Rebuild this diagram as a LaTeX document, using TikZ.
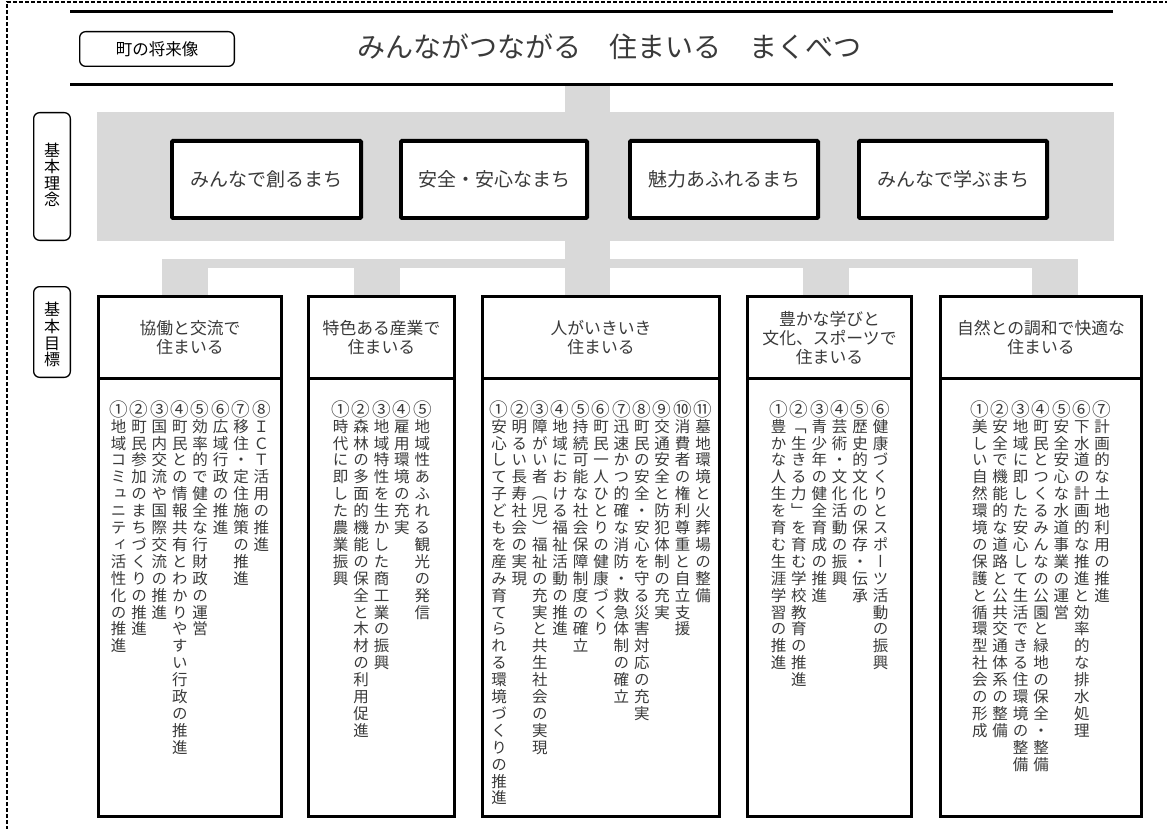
\documentclass[tikz,border=0pt]{standalone}
\usepackage{graphicx}
\usepackage{fontspec}
\newfontfamily\jp{Noto Sans CJK JP}
\newfontfamily\jpv[RawFeature={+vert}]{Noto Sans CJK JP}
\definecolor{barg}{HTML}{D9D9D9}
\definecolor{txt}{HTML}{3A3A3A}
% vertical stacking of characters
\def\vsend{vsend-marker}
\def\vsaux#1{\ifx\vsend#1\else\hbox to 1em{\hss\smash{#1}\hss}\expandafter\vsaux\fi}
\newcommand\vs[2]{\vtop{\baselineskip=#1\lineskiplimit=-\maxdimen\lineskip=0pt\relax\vsaux#2\vsend}}
\newcommand\col[2]{\hbox to 20.4pt{\hss\vtop{\baselineskip=16.9pt\lineskiplimit=-\maxdimen\lineskip=0pt\relax
  \hbox to 1em{\hss\smash{\raisebox{-0.07em}{\scalebox{1.2}{#1}}}\hss}\vsaux#2\vsend}\hss}}
\begin{document}
\begin{tikzpicture}[x=1pt,y=-1pt,
  border/.style={draw=black, line width=1.1pt, dash pattern=on 4pt off 2pt},
  rule/.style={draw=black, line width=3pt},
  conn/.style={fill=barg, draw=none},
  tagbox/.style={draw=black, line width=1.3pt, rounded corners=6pt, fill=white, inner sep=0},
  tagtxt/.style={inner sep=0, anchor=north, text=black, font=\jp\fontsize{16}{16}\selectfont},
  title/.style={inner sep=0, text=txt, font=\jp\fontsize{28}{32}\selectfont},
  rowbox/.style={draw=black, line width=3.8pt, fill=white, rounded corners=1pt, inner sep=0,
    minimum height=77.2pt, text=txt, font=\jp\fontsize{19}{22}\selectfont},
  goalhead/.style={draw=black, line width=3.3pt, fill=white, inner sep=0, minimum height=81.85pt,
    align=center, text=txt, font=\jp\fontsize{16.8}{19}\selectfont},
  goalbody/.style={draw=black, line width=3.3pt, fill=white, inner sep=0, minimum height=437.85pt},
  items/.style={inner sep=0, anchor=north, text=txt, font=\jpv\fontsize{15.5}{16.9}\selectfont}
]
\useasboundingbox (0,0) rectangle (1167,829);
\begin{scope}
  \clip (0,0) rectangle (1167,829);
  \draw[border] (7,860) -- (7,2) -- (1190,2);
\end{scope}

% gray connectors
\fill[conn] (565,85) rectangle (610,268);
\fill[conn] (97,112) rectangle (1114,241);
\fill[conn] (162,259) rectangle (1078,268);
\foreach \a/\b in {162/208,354/400,565/610,803/849,1032/1078}
  \fill[conn] (\a,259) rectangle (\b,298);

% top band
\draw[rule] (70,12) -- (1113,12);
\draw[rule] (70,85) -- (1113,85);
\node[tagbox, minimum width=154.7pt, minimum height=34.7pt, font=\jp\fontsize{16.5}{18}\selectfont] (future) at (157,49) {町の将来像};
\node[title] (vision) at (609,47) {みんながつながる　住まいる　まくべつ};

% side tags
\node[tagbox, minimum width=36.7pt, minimum height=127.7pt] (tag1) at (52,176.5) {};
\node[tagtxt] (tag1t) at (52,156.5) {\vs{16.3pt}{基本理念}};
\node[tagbox, minimum width=36.7pt, minimum height=90.7pt] (tag2) at (52,332) {};
\node[tagtxt] (tag2t) at (52,315.5) {\vs{16.7pt}{基本目標}};

% basic principles
\node[rowbox, minimum width=189.2pt] (p1) at (266.5,179.5) {みんなで創るまち};
\node[rowbox, minimum width=186.2pt] (p2) at (494,179.5) {安全・安心なまち};
\node[rowbox, minimum width=188.2pt] (p3) at (724,179.5) {魅力あふれるまち};
\node[rowbox, minimum width=188.2pt] (p4) at (953,179.5) {みんなで学ぶまち};

% goals: headers
\node[goalhead, minimum width=182.7pt] (h1) at (190,337.6) {協働と交流で\\住まいる};
\node[goalhead, minimum width=145.7pt] (h2) at (381.5,337.6) {特色ある産業で\\住まいる};
\node[goalhead, minimum width=236.7pt] (h3) at (601,337.6) {人がいきいき\\住まいる};
\node[goalhead, minimum width=163.7pt] (h4) at (829.5,337.6) {豊かな学びと\\文化、スポーツで\\住まいる};
\node[goalhead, minimum width=200.7pt] (h5) at (1041,337.6) {自然との調和で快適な\\住まいる};

% goals: bodies
\node[goalbody, minimum width=182.7pt] (b1) at (190,597.4) {};
\node[goalbody, minimum width=145.7pt] (b2) at (381.5,597.4) {};
\node[goalbody, minimum width=236.7pt] (b3) at (601,597.4) {};
\node[goalbody, minimum width=163.7pt] (b4) at (829.5,597.4) {};
\node[goalbody, minimum width=200.7pt] (b5) at (1041,597.4) {};

% item texts
\node[items] (t1) at (190,415) {%
\col{①}{地域コミュニティ活性化の推進}%
\col{②}{町民参加のまちづくりの推進}%
\col{③}{国内交流や国際交流の推進}%
\col{④}{町民との情報共有とわかりやすい行政の推進}%
\col{⑤}{効率的で健全な行財政の運営}%
\col{⑥}{広域行政の推進}%
\col{⑦}{移住・定住施策の推進}%
\col{⑧}{ＩＣＴ活用の推進}};
\node[items] (t2) at (381.5,415) {%
\col{①}{時代に即した農業振興}%
\col{②}{森林の多面的機能の保全と木材の利用促進}%
\col{③}{地域特性を生かした商工業の振興}%
\col{④}{雇用環境の充実}%
\col{⑤}{地域性あふれる観光の発信}};
\node[items] (t3) at (601,415) {%
\col{①}{安心して子どもを産み育てられる環境づくりの推進}%
\col{②}{明るい長寿社会の実現}%
\col{③}{障がい者（児）福祉の充実と共生社会の実現}%
\col{④}{地域における福祉活動の推進}%
\col{⑤}{持続可能な社会保障制度の確立}%
\col{⑥}{町民一人ひとりの健康づくり}%
\col{⑦}{迅速かつ的確な消防・救急体制の確立}%
\col{⑧}{町民の安全・安心を守る災害対応の充実}%
\col{⑨}{交通安全と防犯体制の充実}%
\col{⑩}{消費者の権利尊重と自立支援}%
\col{⑪}{墓地環境と火葬場の整備}};
\node[items] (t4) at (829.5,415) {%
\col{①}{豊かな人生を育む生涯学習の推進}%
\col{②}{「生きる力」を育む学校教育の推進}%
\col{③}{青少年の健全育成の推進}%
\col{④}{芸術・文化活動の振興}%
\col{⑤}{歴史的文化の保存・伝承}%
\col{⑥}{健康づくりとスポーツ活動の振興}};
\node[items] (t5) at (1041,415) {%
\col{①}{美しい自然環境の保護と循環型社会の形成}%
\col{②}{安全で機能的な道路と公共交通体系の整備}%
\col{③}{地域に即した安心して生活できる住環境の整備}%
\col{④}{町民とつくるみんなの公園と緑地の保全・整備}%
\col{⑤}{安全安心な水道事業の運営}%
\col{⑥}{下水道の計画的な推進と効率的な排水処理}%
\col{⑦}{計画的な土地利用の推進}};
\end{tikzpicture}
\end{document}
